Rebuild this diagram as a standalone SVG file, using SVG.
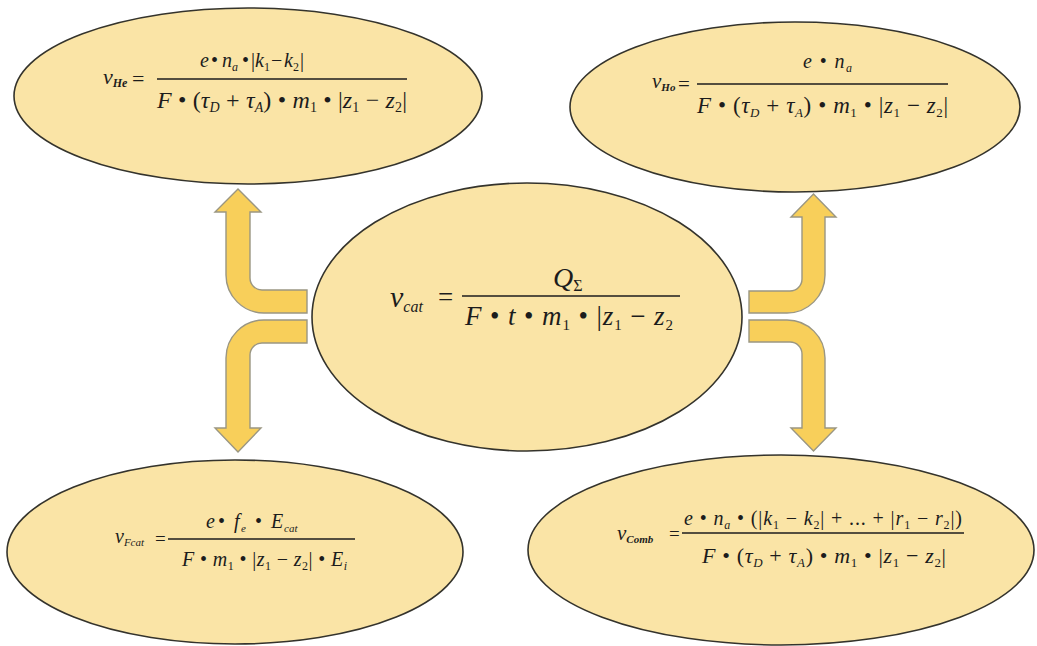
<svg xmlns="http://www.w3.org/2000/svg" width="1037" height="646" viewBox="0 0 1037 646">
<style>
.node{fill:#FAE4A6;stroke:#34332c;stroke-width:1.6}
.arrow{fill:#F8CF5A;stroke:#9a9682;stroke-width:1.4;stroke-linejoin:miter}
text{font-family:"Liberation Serif","Times New Roman",serif;fill:#1c1c1c}
.i{font-style:italic}
.bar{stroke:#1c1c1c;stroke-width:1.3}
</style>
<rect width="1037" height="646" fill="#ffffff"/>
<g id="connectors">
<path class="arrow" d="M 307,290 L 262,290 A 12 12 0 0 1 250,278 L 250,212 L 261,212 L 238,189 L 215,212 L 226,212 L 226,275 A 38 38 0 0 0 264,313 L 307,313 Z"/>
<path class="arrow" d="M 307,320 L 264,320 A 38 38 0 0 0 226,358 L 226,428 L 215,428 L 238,452 L 261,428 L 250,428 L 250,355 A 12 12 0 0 1 262,343 L 307,343 Z"/>
<path class="arrow" d="M 749,291 L 790,291 A 12 12 0 0 0 802,279 L 802,217 L 791,217 L 813.5,194 L 836,217 L 825,217 L 825,275 A 38 38 0 0 1 787,313 L 749,313 Z"/>
<path class="arrow" d="M 749,320 L 787,320 A 38 38 0 0 1 825,358 L 825,428 L 836,428 L 813.5,451 L 791,428 L 802,428 L 802,354 A 12 12 0 0 0 790,342 L 749,342 Z"/>
</g>
<g id="node-he">
<ellipse class="node" cx="248" cy="96" rx="234" ry="88"/>
<text x="103" y="84" font-size="22"><tspan class="i">v</tspan><tspan class="i" font-size="12" font-weight="bold" dy="3">He</tspan></text>
<text x="132" y="86" font-size="22">=</text>
<text y="67" font-size="20"><tspan x="200" class="i">e</tspan><tspan x="211">•</tspan><tspan x="222" class="i">n</tspan><tspan x="232" dy="4" font-size="12" class="i">a</tspan><tspan x="242" dy="-4">•</tspan><tspan x="251">|</tspan><tspan x="255" class="i">k</tspan><tspan x="264" dy="4" font-size="12">1</tspan><tspan x="271" dy="-4">−</tspan><tspan x="284" class="i">k</tspan><tspan x="293" dy="4" font-size="12">2</tspan><tspan x="300" dy="-4">|</tspan></text>
<line class="bar" x1="157" y1="79" x2="407" y2="79"/>
<text x="157" y="108" font-size="24" textLength="250"><tspan class="i">F</tspan> • (<tspan class="i">τ</tspan><tspan class="i" font-size="14" dy="4">D</tspan><tspan dy="-4"> + </tspan><tspan class="i">τ</tspan><tspan class="i" font-size="14" dy="4">A</tspan><tspan dy="-4">) • </tspan><tspan class="i">m</tspan><tspan font-size="14" dy="4">1</tspan><tspan dy="-4"> • |</tspan><tspan class="i">z</tspan><tspan font-size="14" dy="4">1</tspan><tspan dy="-4"> − </tspan><tspan class="i">z</tspan><tspan font-size="14" dy="4">2</tspan><tspan dy="-4">|</tspan></text>
</g>
<g id="node-ho">
<ellipse class="node" cx="795" cy="107" rx="225" ry="85"/>
<text x="652" y="88" font-size="21"><tspan class="i">v</tspan><tspan class="i" font-size="11" font-weight="bold" dy="3">Ho</tspan></text>
<text x="678" y="91" font-size="21">=</text>
<text x="803" y="68" font-size="20" textLength="49"><tspan class="i">e</tspan> • <tspan class="i">n</tspan><tspan class="i" font-size="12" dy="4">a</tspan></text>
<line class="bar" x1="697" y1="84" x2="948" y2="84"/>
<text x="697" y="113" font-size="23" textLength="251"><tspan class="i">F</tspan> • (<tspan class="i">τ</tspan><tspan class="i" font-size="13" dy="4">D</tspan><tspan dy="-4"> + </tspan><tspan class="i">τ</tspan><tspan class="i" font-size="13" dy="4">A</tspan><tspan dy="-4">) • </tspan><tspan class="i">m</tspan><tspan font-size="13" dy="4">1</tspan><tspan dy="-4"> • |</tspan><tspan class="i">z</tspan><tspan font-size="13" dy="4">1</tspan><tspan dy="-4"> − </tspan><tspan class="i">z</tspan><tspan font-size="13" dy="4">2</tspan><tspan dy="-4">|</tspan></text>
</g>
<g id="node-cat">
<ellipse class="node" cx="527" cy="317" rx="215" ry="134"/>
<text x="390" y="307" font-size="30"><tspan class="i">v</tspan><tspan class="i" font-size="16" dy="5">cat</tspan></text>
<text x="438" y="306" font-size="27">=</text>
<text x="553" y="287" font-size="28"><tspan class="i">Q</tspan><tspan font-size="16" dy="4">Σ</tspan></text>
<line class="bar" x1="462" y1="296" x2="680" y2="296"/>
<text x="465" y="325" font-size="27" textLength="208"><tspan class="i">F</tspan> • <tspan class="i">t</tspan> • <tspan class="i">m</tspan><tspan font-size="15" dy="5">1</tspan><tspan dy="-5"> • |</tspan><tspan class="i">z</tspan><tspan font-size="15" dy="5">1</tspan><tspan dy="-5"> − </tspan><tspan class="i">z</tspan><tspan font-size="15" dy="5">2</tspan></text>
</g>
<g id="node-fcat">
<ellipse class="node" cx="235" cy="552" rx="228" ry="92"/>
<text x="115" y="543" font-size="20"><tspan class="i">v</tspan><tspan class="i" font-size="11" dy="3">Fcat</tspan></text>
<text x="155" y="545" font-size="19">=</text>
<text y="528" font-size="20"><tspan x="206" class="i">e</tspan><tspan x="218">•</tspan><tspan x="234" class="i">f</tspan><tspan x="241" dy="4" font-size="11" class="i">e</tspan><tspan x="255" dy="-4">•</tspan><tspan x="271" class="i">E</tspan><tspan x="284" dy="4" font-size="11" class="i">cat</tspan></text>
<line class="bar" x1="168" y1="539" x2="355" y2="539"/>
<text x="182" y="566" font-size="20" textLength="165"><tspan class="i">F</tspan> • <tspan class="i">m</tspan><tspan font-size="12" dy="4">1</tspan><tspan dy="-4"> • |</tspan><tspan class="i">z</tspan><tspan font-size="12" dy="4">1</tspan><tspan dy="-4"> − </tspan><tspan class="i">z</tspan><tspan font-size="12" dy="4">2</tspan><tspan dy="-4">| • </tspan><tspan class="i">E</tspan><tspan class="i" font-size="12" dy="4">i</tspan></text>
</g>
<g id="node-comb">
<ellipse class="node" cx="781" cy="550" rx="253" ry="95"/>
<text x="617" y="540" font-size="21"><tspan class="i">v</tspan><tspan class="i" font-size="11" font-weight="bold" dy="3">Comb</tspan></text>
<text x="669" y="540" font-size="19">=</text>
<text x="684" y="525" font-size="20" textLength="278"><tspan class="i">e</tspan> • <tspan class="i">n</tspan><tspan class="i" font-size="12" dy="4">a</tspan><tspan dy="-4"> • (|</tspan><tspan class="i">k</tspan><tspan font-size="12" dy="4">1</tspan><tspan dy="-4"> − </tspan><tspan class="i">k</tspan><tspan font-size="12" dy="4">2</tspan><tspan dy="-4">| + ... + |</tspan><tspan class="i">r</tspan><tspan font-size="12" dy="4">1</tspan><tspan dy="-4"> − </tspan><tspan class="i">r</tspan><tspan font-size="12" dy="4">2</tspan><tspan dy="-4">|)</tspan></text>
<line class="bar" x1="682" y1="533" x2="964" y2="533"/>
<text x="702" y="563" font-size="22" textLength="244"><tspan class="i">F</tspan> • (<tspan class="i">τ</tspan><tspan class="i" font-size="13" dy="4">D</tspan><tspan dy="-4"> + </tspan><tspan class="i">τ</tspan><tspan class="i" font-size="13" dy="4">A</tspan><tspan dy="-4">) • </tspan><tspan class="i">m</tspan><tspan font-size="13" dy="4">1</tspan><tspan dy="-4"> • |</tspan><tspan class="i">z</tspan><tspan font-size="13" dy="4">1</tspan><tspan dy="-4"> − </tspan><tspan class="i">z</tspan><tspan font-size="13" dy="4">2</tspan><tspan dy="-4">|</tspan></text>
</g>
</svg>
